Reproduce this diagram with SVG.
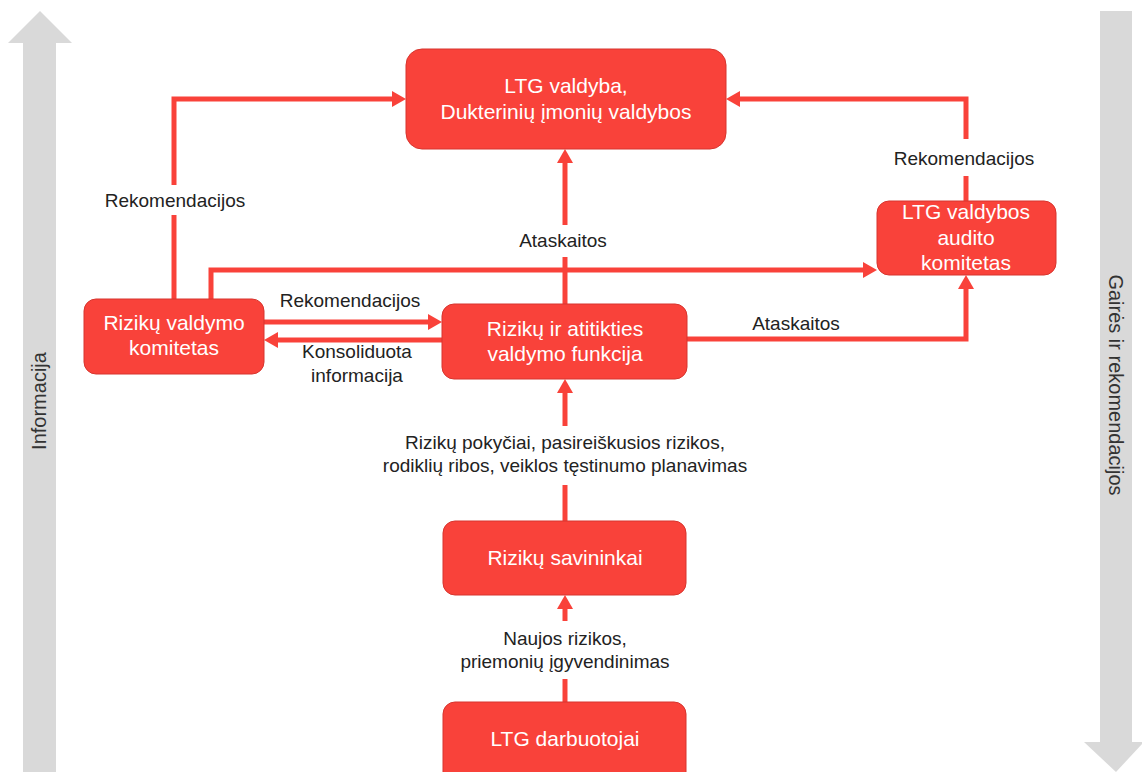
<svg xmlns="http://www.w3.org/2000/svg" width="1142" height="772" viewBox="0 0 1142 772">
<style>
.node rect{fill:#F9423A;stroke:#D7352E;stroke-width:1}
.node text{fill:#fff;font-family:"Liberation Sans",Arial,sans-serif;font-size:21px;text-anchor:middle}
.lbl{fill:#222;font-family:"Liberation Sans",Arial,sans-serif;font-size:19px;text-anchor:middle}
.side{fill:#333;font-family:"Liberation Sans",Arial,sans-serif;font-size:20px;text-anchor:middle}
.conn path{fill:none;stroke:#F9423A;stroke-width:5}
.bar{fill:#D9D9D9}
</style>
<defs>
<marker id="ah" markerUnits="userSpaceOnUse" markerWidth="14" markerHeight="16" viewBox="0 0 14 16" refX="4" refY="8" orient="auto">
<path d="M0,0 L14,8 L0,16 z" fill="#F9423A"/>
</marker>
</defs>
<rect width="1142" height="772" fill="#fff"/>
<g id="side-left">
<polygon class="bar" points="40,11 72,43 56,43 56,772 23,772 23,43 8,43"/>
<text class="side" transform="translate(46,401) rotate(-90)">Informacija</text>
</g>
<g id="side-right">
<polygon class="bar" points="1100,11 1132,11 1132,742 1142,742 1142,744 1116,772 1084,742 1100,742"/>
<text class="side" transform="translate(1109,385) rotate(90)">Gairės ir rekomendacijos</text>
</g>
<g class="conn" id="connectors">
<path d="M174,299 V215"/>
<path d="M174,185 V99 H396" marker-end="url(#ah)"/>
<path d="M211,299 V270 H867" marker-end="url(#ah)"/>
<path d="M264,322 H432" marker-end="url(#ah)"/>
<path d="M442,340 H274" marker-end="url(#ah)"/>
<path d="M565,304 V257"/>
<path d="M565,225 V159" marker-end="url(#ah)"/>
<path d="M687,339 H966 V285" marker-end="url(#ah)"/>
<path d="M966,201 V176"/>
<path d="M966,139 V99 H736" marker-end="url(#ah)"/>
<path d="M565,521 V485"/>
<path d="M565,426 V389" marker-end="url(#ah)"/>
<path d="M565,702 V679"/>
<path d="M565,621 V605" marker-end="url(#ah)"/>
<text class="lbl" x="175" y="207">Rekomendacijos</text>
<text class="lbl" x="964" y="165">Rekomendacijos</text>
<text class="lbl" x="563" y="247">Ataskaitos</text>
<text class="lbl" x="350" y="307">Rekomendacijos</text>
<text class="lbl" x="357" y="358">Konsoliduota</text>
<text class="lbl" x="357" y="382">informacija</text>
<text class="lbl" x="796" y="330">Ataskaitos</text>
<text class="lbl" x="565" y="449">Rizikų pokyčiai, pasireiškusios rizikos,</text>
<text class="lbl" x="565" y="472">rodiklių ribos, veiklos tęstinumo planavimas</text>
<text class="lbl" x="565" y="645">Naujos rizikos,</text>
<text class="lbl" x="565" y="668">priemonių įgyvendinimas</text>
</g>
<g class="node" id="ltg-valdyba">
<rect x="406" y="49" width="320" height="100" rx="16"/>
<text x="566" y="93">LTG valdyba,</text>
<text x="566" y="119">Dukterinių įmonių valdybos</text>
</g>
<g class="node" id="audito-komitetas">
<rect x="877" y="201" width="179" height="74" rx="12"/>
<text x="966" y="219">LTG valdybos</text>
<text x="966" y="245">audito</text>
<text x="966" y="270">komitetas</text>
</g>
<g class="node" id="rizikos-komitetas">
<rect x="84" y="299" width="180" height="75" rx="12"/>
<text x="174" y="330">Rizikų valdymo</text>
<text x="174" y="355">komitetas</text>
</g>
<g class="node" id="rizikos-funkcija">
<rect x="442" y="304" width="245" height="75" rx="12"/>
<text x="565" y="336">Rizikų ir atitikties</text>
<text x="565" y="361">valdymo funkcija</text>
</g>
<g class="node" id="savininkai">
<rect x="443" y="521" width="243" height="74" rx="12"/>
<text x="565" y="565">Rizikų savininkai</text>
</g>
<g class="node" id="darbuotojai">
<rect x="443" y="702" width="243" height="90" rx="12"/>
<text x="565" y="746">LTG darbuotojai</text>
</g>
</svg>
